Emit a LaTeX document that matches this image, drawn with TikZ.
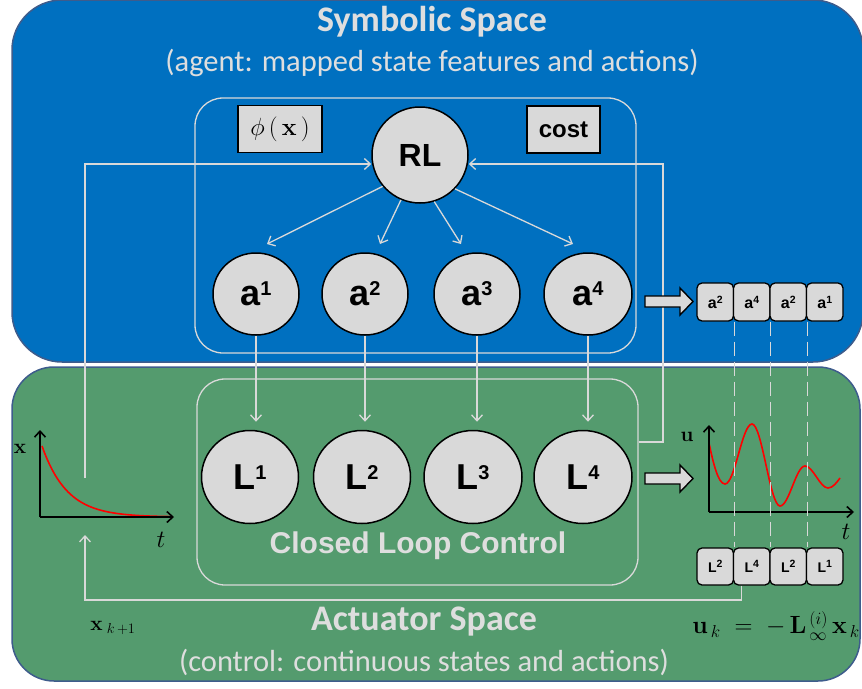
\documentclass[tikz,border=0pt]{standalone}
\usepackage[no-math]{fontspec}
\setmainfont{Carlito}
\newfontfamily\arialf{Liberation Sans}
\usetikzlibrary{arrows.meta,shapes.geometric}
\definecolor{symblue}{RGB}{0,112,192}
\definecolor{actgreen}{RGB}{84,155,110}
\definecolor{edgeblue}{RGB}{62,92,140}
\definecolor{lgray}{RGB}{217,217,217}
\definecolor{txtgray}{RGB}{222,222,222}
\newcommand\bigsup[1]{\raisebox{10pt}{\fontsize{20}{20}\selectfont #1}}
\newcommand\smlsup[1]{\raisebox{5pt}{\fontsize{10.5}{10.5}\selectfont #1}}
\tikzset{
  spacetitle/.style={text=txtgray,font=\fontsize{36}{38}\selectfont\bfseries,inner sep=0},
  spacesub/.style={text=txtgray,font=\fontsize{30.5}{32}\selectfont,inner sep=0},
  circnode/.style={fill=lgray,draw=black,line width=1.5pt,inner sep=0,font=\arialf\bfseries\fontsize{36}{36}\selectfont},
  ellnode/.style={circnode,ellipse},
  tagbox/.style={fill=lgray,draw=black,line width=1.6pt,inner sep=0},
  seqbox/.style={fill=lgray,draw=black,line width=1.3pt,rounded corners=5pt,minimum width=36.5pt,inner sep=0,font=\arialf\bfseries\fontsize{16}{16}\selectfont},
  grouprect/.style={draw=lgray,line width=1.3pt,rounded corners=28pt,inner sep=0},
  conn/.style={draw=lgray,line width=1.3pt,-{Straight Barb[length=6pt,width=11pt,line width=1.3pt]}},
  dashline/.style={draw=lgray,line width=1.3pt,dash pattern=on 14pt off 6pt},
  axis/.style={draw=black,line width=1.8pt,-{Straight Barb[length=6pt,width=11pt,line width=1.6pt]}},
  redcurve/.style={draw=red,line width=1.6pt},
  bigarrow/.style={fill=lgray,draw=black,line width=1.4pt},
}
\begin{document}
\begin{tikzpicture}[x=1pt,y=-1pt]
\useasboundingbox (0,0) rectangle (862,688);
% space backgrounds
\draw[fill=symblue,draw=edgeblue,line width=1.5pt,rounded corners=50pt] (12,0) rectangle (863,362);
\draw[fill=actgreen,draw=edgeblue,line width=1.5pt,rounded corners=42pt] (12,367) rectangle (860,681);
\node[spacetitle] (symt) at (432,22) {Symbolic Space};
\node[spacesub] (syms) at (432,63) {(agent: mapped state features and actions)};
\node[spacetitle] (actt) at (424,622) {Actuator Space};
\node[spacesub] (acts) at (424,662) {(control: continuous states and actions)};
% group rectangles
\node[grouprect,minimum width=441pt,minimum height=255pt] (SYM) at (415.5,225.5) {};
\node[grouprect,minimum width=441pt,minimum height=206pt] (CL) at (417.5,482) {};
\node[text=txtgray,font=\arialf\bfseries\fontsize{30}{30}\selectfont,inner sep=0] (cltxt) at (418,546) {Closed Loop Control};
% tags
\node[tagbox,minimum width=84pt,minimum height=47pt,font=\fontsize{26}{26}\selectfont] (phi) at (280,129) {$\phi\,(\,\mathbf{x}\,)$};
\node[tagbox,minimum width=73pt,minimum height=47pt,font=\arialf\bfseries\fontsize{24}{24}\selectfont] (cost) at (563.5,129.5) {cost};
% RL and actions
\node[circnode,circle,minimum size=96pt,font=\arialf\bfseries\fontsize{32}{32}\selectfont] (RL) at (420,155) {RL};
\node[ellnode,minimum width=86pt,minimum height=82pt] (a1) at (256,294) {a\bigsup{1}};
\node[ellnode,minimum width=86pt,minimum height=82pt] (a2) at (365,294) {a\bigsup{2}};
\node[ellnode,minimum width=86pt,minimum height=82pt] (a3) at (477,294) {a\bigsup{3}};
\node[ellnode,minimum width=88pt,minimum height=82pt] (a4) at (588,294) {a\bigsup{4}};
% controllers
\node[ellnode,minimum width=97pt,minimum height=93pt] (L1) at (250,477) {L\bigsup{1}};
\node[ellnode,minimum width=97pt,minimum height=93pt] (L2) at (362,477) {L\bigsup{2}};
\node[ellnode,minimum width=98pt,minimum height=93pt] (L3) at (473,477) {L\bigsup{3}};
\node[ellnode,minimum width=98pt,minimum height=93pt] (L4) at (583,477) {L\bigsup{4}};
% RL -> actions
\coordinate (e1) at (267,244);
\coordinate (e2) at (380,244);
\coordinate (e3) at (461,244);
\coordinate (e4) at (573,244);
\draw[conn] (RL.220.7) -- (e1);
\draw[conn] (RL.247.3) -- (e2);
\draw[conn] (RL.287.3) -- (e3);
\draw[conn] (RL.316.7) -- (e4);
% actions -> controllers
\draw[conn,shorten >=8pt] (a1.south) -- (a1.south |- L1.north);
\draw[conn,shorten >=8pt] (a2.south) -- (a2.south |- L2.north);
\draw[conn,shorten >=8pt] (a3.south) -- (a3.south |- L3.north);
\draw[conn,shorten >=8pt] (a4.south) -- (a4.south |- L4.north);
% feedback lines to RL
\coordinate (frow) at (0,164);
\coordinate (xtop) at (85,478);
\coordinate (rcorner) at (663,442);
\draw[conn] (xtop) |- (RL.west |- frow);
\draw[conn] (CL.east |- rcorner) -- (rcorner) |- (RL.east |- frow);
% big hollow arrows
\draw[bigarrow] (645,296) -- (680,296) -- (680,288) -- (693,301.5) -- (680,315) -- (680,307) -- (645,307) -- cycle;
\draw[bigarrow] (645,473) -- (680,473) -- (680,465) -- (693,478.5) -- (680,492) -- (680,484) -- (645,484) -- cycle;
% sequences
\node[seqbox,minimum height=38pt] (as1) at (715.25,302) {a\smlsup{2}};
\node[seqbox,minimum height=38pt] (as2) at (751.75,302) {a\smlsup{4}};
\node[seqbox,minimum height=38pt] (as3) at (788.25,302) {a\smlsup{2}};
\node[seqbox,minimum height=38pt] (as4) at (824.75,302) {a\smlsup{1}};
\node[seqbox,minimum height=37pt,font=\arialf\bfseries\fontsize{14}{14}\selectfont] (ls1) at (715.25,566.5) {L\smlsup{2}};
\node[seqbox,minimum height=37pt,font=\arialf\bfseries\fontsize{14}{14}\selectfont] (ls2) at (751.75,566.5) {L\smlsup{4}};
\node[seqbox,minimum height=37pt,font=\arialf\bfseries\fontsize{14}{14}\selectfont] (ls3) at (788.25,566.5) {L\smlsup{2}};
\node[seqbox,minimum height=37pt,font=\arialf\bfseries\fontsize{14}{14}\selectfont] (ls4) at (824.75,566.5) {L\smlsup{1}};
% x(t) graph
\draw[redcurve] plot[domain=42:170,samples=50] (\x,{517-71*exp(-(\x-42)/25)});
\draw[axis] (40,517) -- (40,430);
\draw[axis] (40,517) -- (174,517);
\node[font=\fontsize{22}{22}\selectfont,inner sep=0] (xlab) at (20,449) {$\mathbf{x}$};
\node[font=\fontsize{24}{24}\selectfont,inner sep=0] (tlab1) at (161,540) {$t$};
% u(t) graph
\draw[redcurve] (709,443) .. controls (713,462) and (718,484) .. (725,484)
  .. controls (735,484) and (742,424) .. (752,424)
  .. controls (762,424) and (770,506) .. (780,506)
  .. controls (789,506) and (796,466) .. (805,466)
  .. controls (813,466) and (820,488) .. (828,488)
  .. controls (833,488) and (837,482) .. (840,478);
\draw[axis] (709,512) -- (709,425);
\draw[axis] (709,512) -- (854,512);
\node[font=\fontsize{22}{22}\selectfont,inner sep=0] (ulab) at (687,437) {$\mathbf{u}$};
\node[font=\fontsize{24}{24}\selectfont,inner sep=0] (tlab2) at (846,532) {$t$};
% dashed alignment lines
\draw[dashline] (as1.south east) -- (ls1.north east);
\draw[dashline] (as2.south east) -- (ls2.north east);
\draw[dashline] (as3.south east) -- (ls3.north east);
% bottom feedback
\coordinate (lsout) at ([xshift=-10pt]ls2.south);
\coordinate (brow) at (0,600);
\coordinate (xbot) at (85,535);
\draw[conn] (lsout) -- (lsout |- brow) -- (xbot |- brow) -- (xbot);
% formulas
\node[font=\fontsize{22}{22}\selectfont,inner sep=0] (xk1) at (113,628) {$\mathbf{x}_{\;k\,+1}$};
\node[font=\fontsize{23}{23}\selectfont,inner sep=0] (ulaw) at (776,626) {$\mathbf{u}_{\,k}\;=\;-\,\mathbf{L}^{\,(i)}_{\,\infty}\,\mathbf{x}_{\,k}$};
\end{tikzpicture}
\end{document}
